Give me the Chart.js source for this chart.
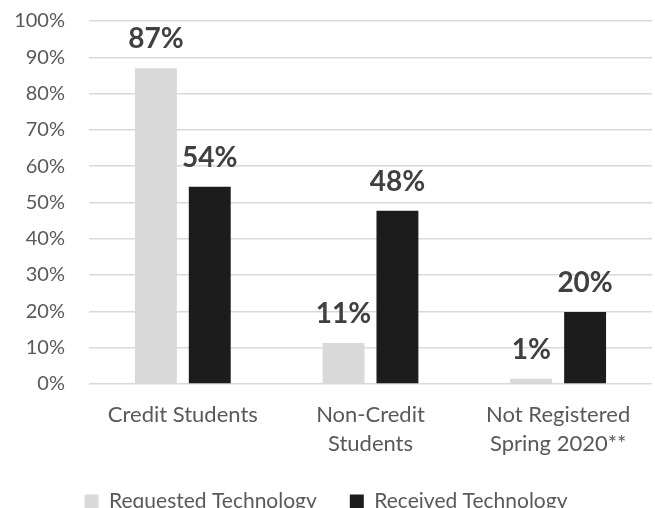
<!DOCTYPE html>
<html>
<head>
<meta charset="utf-8">
<script src="https://cdn.jsdelivr.net/npm/chart.js@4"></script>
<style>
  html, body { margin: 0; padding: 0; background: #fff; overflow: hidden; }
  #wrap { width: 655px; height: 508px; }
</style>
</head>
<body>
<div id="wrap"><canvas id="c" width="655" height="508"></canvas></div>
<script>
const categories = [["Credit Students"], ["Non-Credit", "Students"], ["Not Registered", "Spring 2020**"]];
const seriesNames = ["Requested Technology", "Received Technology"];
const requested = [87, 11.3, 1.4];
const received = [54.3, 47.7, 19.8];
const yTicks = [0, 10, 20, 30, 40, 50, 60, 70, 80, 90, 100];

const FONT = "Lato, 'Noto Sans', sans-serif";

const barLabels = {
  id: 'barLabels',
  afterDatasetsDraw(chart) {
    const ctx = chart.ctx;
    ctx.save();
    ctx.font = "bold 28px " + FONT;
    ctx.fillStyle = "#404040";
    ctx.textAlign = "center";
    ctx.textBaseline = "middle";
    chart.data.datasets.forEach((ds, di) => {
      const meta = chart.getDatasetMeta(di);
      meta.data.forEach((bar, i) => {
        ctx.fillText(Math.round(ds.data[i]) + "%", bar.x, bar.y - 29);
      });
    });
    ctx.restore();
  }
};

new Chart(document.getElementById('c'), {
  type: 'bar',
  data: {
    labels: categories,
    datasets: [
      { label: seriesNames[0], data: requested, backgroundColor: '#d9d9d9' },
      { label: seriesNames[1], data: received, backgroundColor: '#1c1c1c' }
    ]
  },
  options: {
    responsive: false,
    animation: false,
    devicePixelRatio: 1,
    layout: { padding: { top: 21, right: 3, left: 0, bottom: -14 } },
    datasets: { bar: { categoryPercentage: 0.574, barPercentage: 0.778 } },
    plugins: {
      tooltip: { enabled: false },
      legend: {
        position: 'bottom',
        labels: {
          font: { family: FONT, size: 21 },
          color: '#595959',
          boxWidth: 14,
          boxHeight: 14,
          padding: 33
        }
      }
    },
    scales: {
      x: {
        afterFit(scale) { scale.height = scale.height - 16; },
        grid: { display: false, drawTicks: false },
        border: { display: false },
        ticks: {
          font: { family: FONT, size: 22, lineHeight: 1.32 },
          color: '#595959',
          padding: 16,
          maxRotation: 0
        }
      },
      y: {
        min: 0,
        max: 100,
        afterFit(scale) { scale.width = 89; scale.paddingTop = 0; scale.paddingBottom = 0; },
        afterBuildTicks(scale) { scale.ticks = yTicks.map(v => ({ value: v })); },
        grid: { color: '#d9d9d9', lineWidth: 1.5, drawTicks: false },
        border: { display: false },
        ticks: {
          font: { family: FONT, size: 20 },
          color: '#595959',
          padding: 24,
          callback: v => v + '%'
        }
      }
    }
  },
  plugins: [barLabels]
});
</script>
</body>
</html>
